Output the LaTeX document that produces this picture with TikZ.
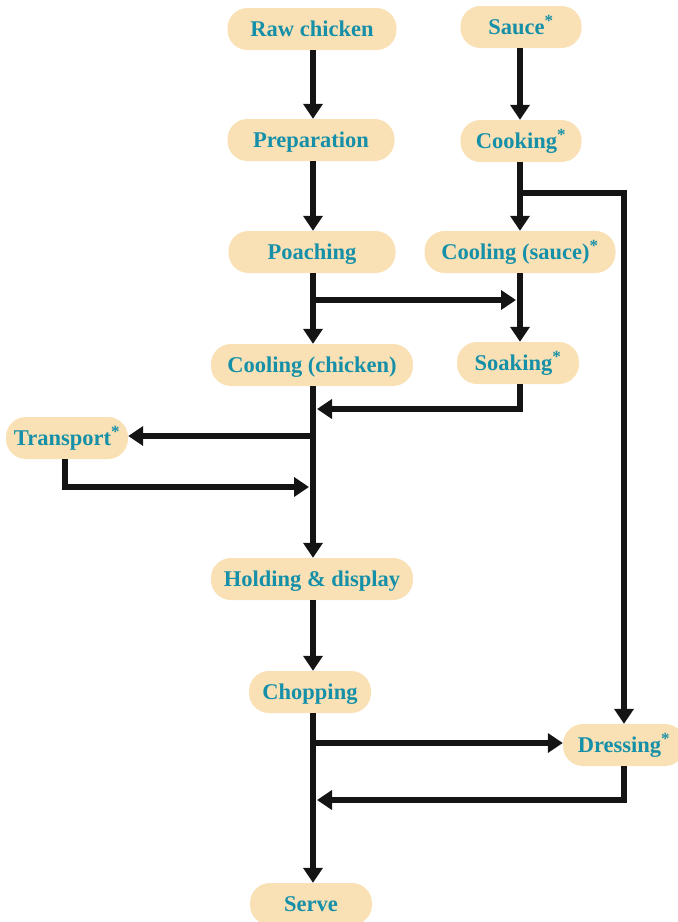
\documentclass[tikz,border=0pt]{standalone}
\usepackage{fontspec}
\setmainfont{Liberation Serif}
\usetikzlibrary{arrows.meta}
\definecolor{boxfill}{HTML}{F9E1B5}
\definecolor{boxtext}{HTML}{1690A8}
\definecolor{flow}{HTML}{141414}
\newcommand{\mystar}{\textsuperscript{\fontsize{17}{17}\selectfont *}}
\tikzset{
  stepbox/.style={rectangle, rounded corners=20pt, fill=boxfill, text=boxtext, font=\fontsize{22.5}{24}\selectfont\bfseries, minimum height=42pt, inner xsep=4pt, inner ysep=0pt, text height=17pt, text depth=2pt},
  flowline/.style={draw=flow, line width=6.8pt, line join=miter},
  flowarrow/.style={flowline, -{Triangle[length=15pt,width=19pt]}}
}
\begin{document}
\begin{tikzpicture}[x=1pt,y=-1pt]
\useasboundingbox (0,0) rectangle (678,922);
\node[stepbox, minimum width=169pt] (raw) at (312,29) {Raw chicken};
\node[stepbox, minimum width=121pt] (sauce) at (521,27) {Sauce\mystar};
\node[stepbox, minimum width=167pt] (prep) at (311,140) {Preparation};
\node[stepbox, minimum width=121pt] (cook) at (521,141) {Cooking\mystar};
\node[stepbox, minimum width=167pt] (poach) at (312,252) {Poaching};
\node[stepbox, minimum width=191pt] (cools) at (520,252) {Cooling (sauce)\mystar};
\node[stepbox, minimum width=202pt] (coolc) at (312,365) {Cooling (chicken)};
\node[stepbox, minimum width=122pt] (soak) at (518,363) {Soaking\mystar};
\node[stepbox, minimum width=122pt] (trans) at (67,438) {Transport\mystar};
\node[stepbox, minimum width=202pt] (hold) at (312,579) {Holding \& display};
\node[stepbox, minimum width=122pt] (chop) at (310,692) {Chopping};
\node[stepbox, minimum width=122pt] (dress) at (624,745) {Dressing\mystar};
\node[stepbox, minimum width=122pt] (serve) at (311,904) {Serve};

\coordinate (mx) at (313,0);
\coordinate (sx) at (520,0);
% left column
\draw[flowarrow] (mx |- raw.south) -- (mx |- prep.north);
\draw[flowarrow] (mx |- prep.south) -- (mx |- poach.north);
\draw[flowarrow] (mx |- poach.south) -- (mx |- coolc.north);
\draw[flowarrow] (mx |- coolc.south) -- (mx |- hold.north);
\draw[flowarrow] (mx |- hold.south) -- (mx |- chop.north);
\draw[flowarrow] (mx |- chop.south) -- (mx |- serve.north);
% right column
\draw[flowarrow] (sx |- sauce.south) -- (sx |- cook.north);
\draw[flowarrow] (sx |- cook.south) -- (sx |- cools.north);
\draw[flowarrow] (sx |- cools.south) -- (sx |- soak.north);
% branches
\coordinate (jcook) at (520,193);
\draw[flowarrow] (jcook) -| (dress.north);
\coordinate (jpoach) at (313,300);
\coordinate (tpoach) at (516,300);
\draw[flowarrow] (jpoach) -- (tpoach);
\coordinate (tsoak) at (317,409);
\draw[flowarrow] (sx |- soak.south) |- (tsoak);
\coordinate (jtrans) at (313,436);
\draw[flowarrow] (jtrans) -- (trans.east |- jtrans);
\coordinate (ttrans) at (309,487);
\draw[flowarrow] (65,0 |- trans.south) |- (ttrans);
\coordinate (jchop) at (313,743);
\draw[flowarrow] (jchop) -- (dress.west |- jchop);
\coordinate (tdress) at (317,800);
\draw[flowarrow] (dress.south) |- (tdress);
\end{tikzpicture}
\end{document}
